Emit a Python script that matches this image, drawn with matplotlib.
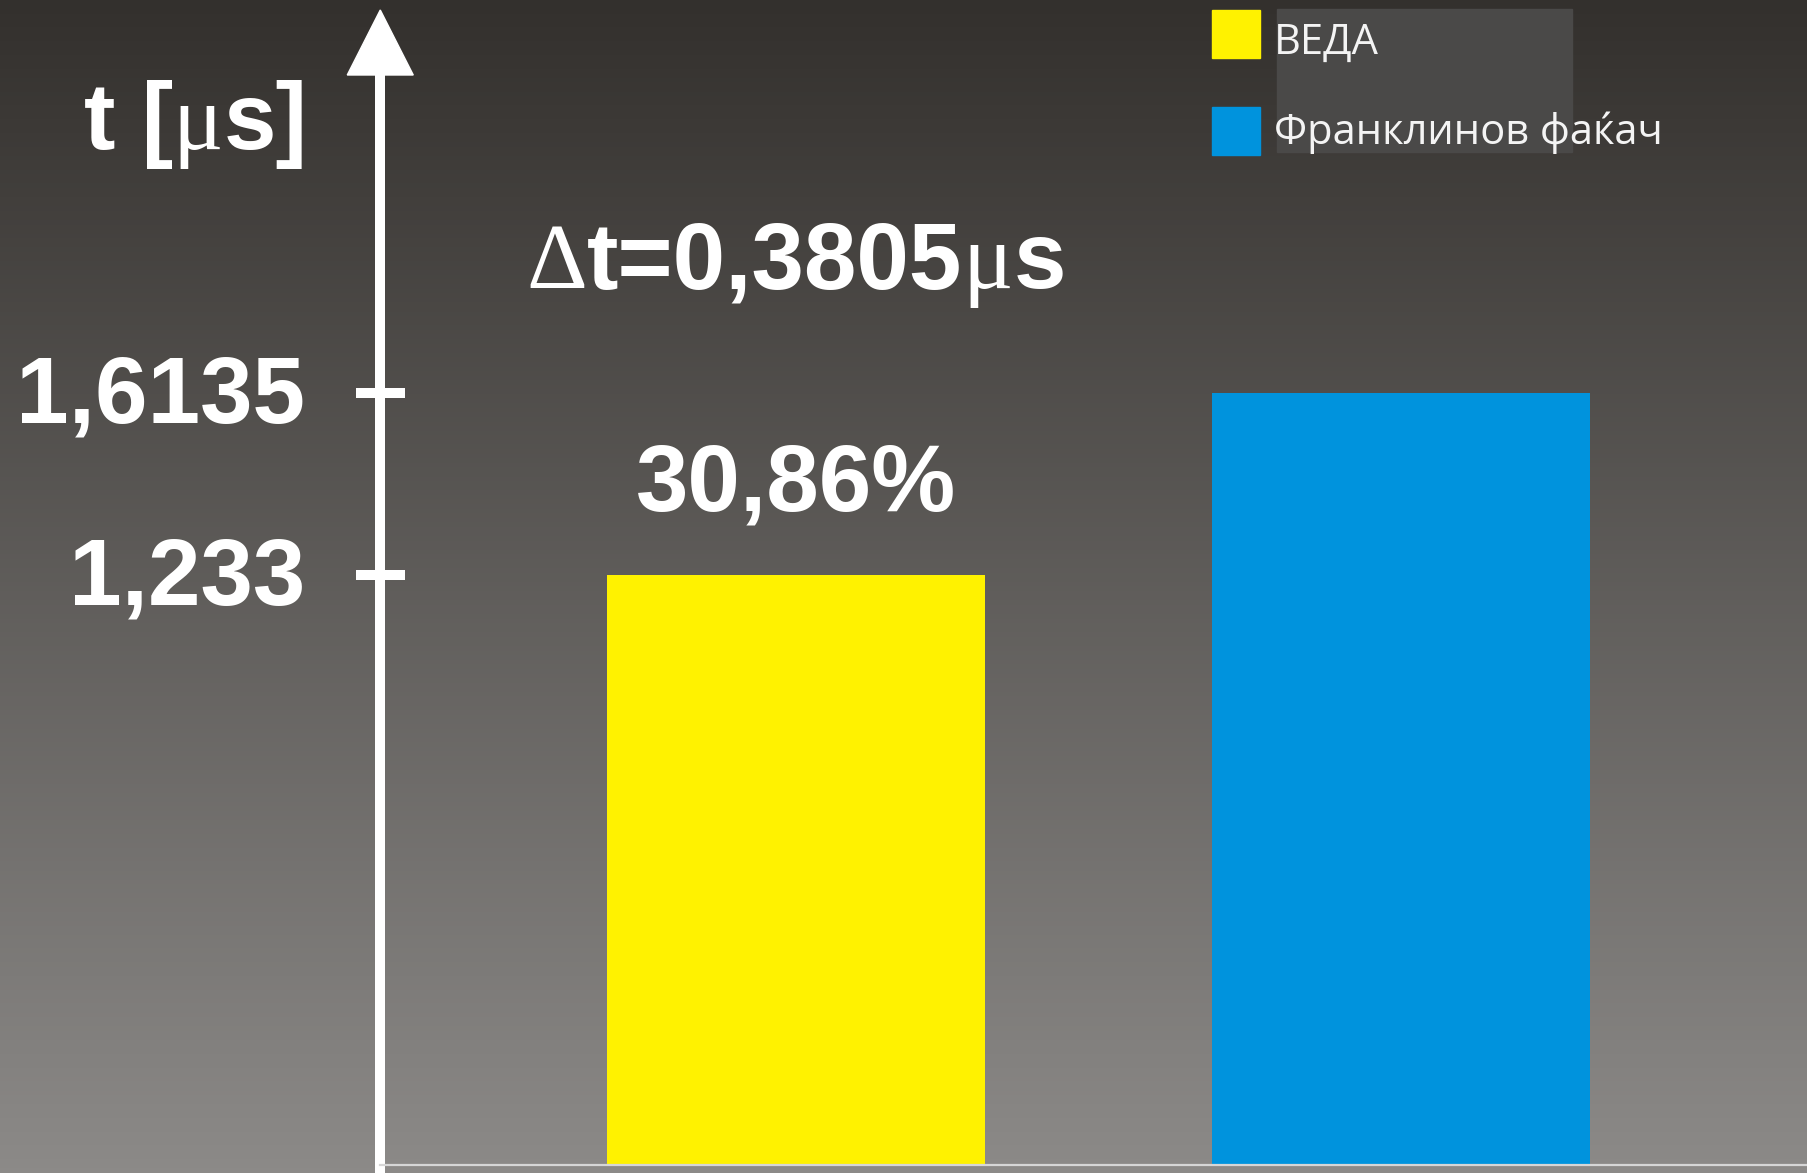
import numpy as np
import matplotlib
matplotlib.use('Agg')
import matplotlib.pyplot as plt
from matplotlib.colors import LinearSegmentedColormap
from matplotlib.patches import Rectangle, Polygon
from matplotlib.transforms import IdentityTransform

W, H, DPI = 1807, 1173, 100

# measured times, t [us]
names = ['ВЕДА', 'Франклинов фаќач']
times = [1.233, 1.6135]
colors = ['#fff200', '#0093dd']

BOLD = dict(family='Liberation Sans', weight='bold')
SYMB = dict(family='Liberation Serif', weight='normal')
LEG = dict(family=['Open Sans', 'DejaVu Sans'])

def comma(s):
    return s.replace('.', ',')

fig = plt.figure(figsize=(W / DPI, H / DPI), dpi=DPI)

# background gradient, pixel coords from top-left
bg = fig.add_axes([0, 0, 1, 1])
bg.set_xlim(0, W)
bg.set_ylim(H, 0)
bg.axis('off')
cmap = LinearSegmentedColormap.from_list('bg', ['#33302d', '#8c8a88'])
bg.imshow(np.linspace(0, 1, 256).reshape(-1, 1), cmap=cmap, aspect='auto',
          extent=[0, W, H, 0], zorder=0)

# legend (grey box only behind the labels)
bg.add_patch(Rectangle((1277, 9), 295, 143, color='#4a4948', zorder=1))
for i, (name, c) in enumerate(zip(names, colors)):
    bg.add_patch(Rectangle((1212, 10 + i * 97), 48, 48, color=c, zorder=2))
    bg.text(1274, 54 + i * 90, name, color='#f4f4f4', fontsize=30,
            va='baseline', ha='left', zorder=3, **LEG)

# data axes: t=0 sits 8 px above the bottom edge
base = 8
ax = fig.add_axes([0, base / H, 1, 1 - base / H])
ax.patch.set_alpha(0)
ax.axis('off')
ax.set_xlim(-1.317, 1.672)
ax.set_ylim(0, 2.436)
ppx = W / (1.672 + 1.317)
ppy = (H - base) / 2.436

x = np.arange(len(times))
ax.bar(x, times, width=0.625, color=colors, zorder=2)

# hand-drawn y axis with arrow head
x_ax = -0.688
lw = 10 * 72 / DPI
y_tip = (H - base - 10) / ppy
hl, hw = 65 / ppy, 33 / ppx
ax.plot([x_ax, x_ax], [-base / ppy, y_tip - hl + 0.01], color='white', lw=lw,
        solid_capstyle='butt', clip_on=False, zorder=3)
ax.add_patch(Polygon([(x_ax - hw, y_tip - hl), (x_ax + hw, y_tip - hl), (x_ax, y_tip)],
                     closed=True, color='white', clip_on=False, zorder=3))
ax.plot([x_ax, 1.672], [0, 0], color='#d6d6d6', lw=1.6, clip_on=False, zorder=3)

for v in times:
    ax.plot([x_ax - 24 / ppx, x_ax + 25 / ppx], [v, v], color='white', lw=lw,
            solid_capstyle='butt', zorder=3)
    ax.annotate(comma(str(v)), (x_ax, v), xytext=(-75, -29), textcoords='offset pixels',
                ha='right', va='baseline', color='white', fontsize=68, **BOLD)

renderer = fig.canvas.get_renderer()

def rich(pieces, x, y, ha='left'):
    # run of differently styled pieces on one baseline, x/y in figure pixels
    arts = [fig.text(0, 0, s, color='white', fontsize=68, va='baseline',
                     transform=IdentityTransform(), **fp) for s, fp in pieces]
    widths = [a.get_window_extent(renderer).width for a in arts]
    total = sum(widths)
    x0 = {'left': x, 'center': x - total / 2, 'right': x - total}[ha]
    for a, w in zip(arts, widths):
        a.set_position((x0, y))
        x0 += w

ax_px, _ = ax.transData.transform((x_ax, 0))
rich([('t [', BOLD), ('μ', SYMB), ('s]', BOLD)], ax_px - 73, H - 149, ha='right')

dt = times[1] - times[0]
bx, by = ax.transData.transform((x[0], times[1]))
rich([('Δ', SYMB), ('t=' + comma(f'{dt:.4f}'), BOLD), ('μ', SYMB), ('s', BOLD)],
     bx, by + 105, ha='center')

ax.annotate(comma(f'{dt / times[0] * 100:.2f}') + '%', (x[0], times[0]),
            xytext=(0, 65), textcoords='offset pixels', ha='center', va='baseline',
            color='white', fontsize=68, **BOLD)

fig.savefig('out.png', dpi=DPI)
